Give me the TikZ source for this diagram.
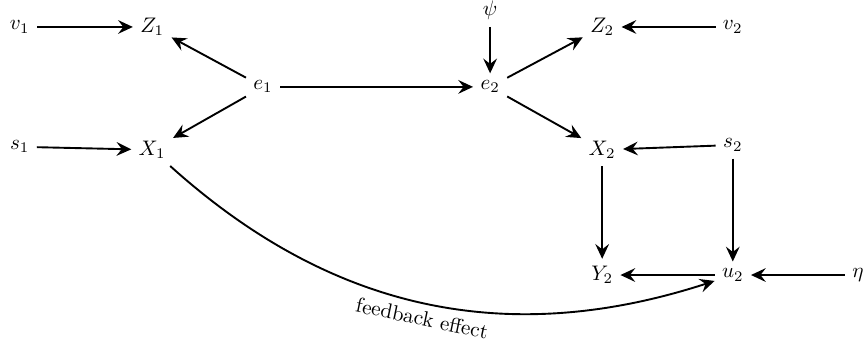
\documentclass[tikz,border=0pt]{standalone}
\usepackage{amsmath}
\usetikzlibrary{arrows.meta}

\begin{document}
\begin{tikzpicture}[arr/.style={-{Stealth[length=7pt, width=6.5pt, inset=2.5pt]}, line width=0.9pt}]
  \useasboundingbox (0,0) rectangle (14.47,5.79);
  % period 1
  \node (v1) at (0.33,5.34) {$v_1$};
  \node (Z1) at (2.54,5.34) {$Z_1$};
  \node (e1) at (4.39,4.34) {$e_1$};
  \node (s1) at (0.33,3.34) {$s_1$};
  \node (X1) at (2.54,3.29) {$X_1$};
  % period 2
  \node (psi) at (8.18,5.62) {$\psi$};
  \node (e2) at (8.18,4.34) {$e_2$};
  \node (Z2) at (10.05,5.34) {$Z_2$};
  \node (v2) at (12.23,5.34) {$v_2$};
  \node (X2) at (10.05,3.29) {$X_2$};
  \node (s2) at (12.23,3.37) {$s_2$};
  \node (Y2) at (10.05,1.20) {$Y_2$};
  \node (u2) at (12.23,1.20) {$u_2$};
  \node (eta) at (14.32,1.20) {$\eta$};
  % arrows
  \draw[arr] (v1) -- (Z1);
  \draw[arr] (s1) -- (X1);
  \draw[arr] (e1) -- (Z1);
  \draw[arr] (e1) -- (X1);
  \draw[arr] (e1) -- (e2);
  \draw[arr] (psi) -- (e2);
  \draw[arr] (e2) -- (Z2);
  \draw[arr] (e2) -- (X2);
  \draw[arr] (v2) -- (Z2);
  \draw[arr] (s2) -- (X2);
  \draw[arr] (X2) -- (Y2);
  \draw[arr] (s2) -- (u2);
  \draw[arr] (u2) -- (Y2);
  \draw[arr] (eta) -- (u2);
  % feedback
  \draw[arr] (X1) to[out=-42, in=198] node[below, sloped, pos=0.5] {feedback effect} (u2);
\end{tikzpicture}
\end{document}
